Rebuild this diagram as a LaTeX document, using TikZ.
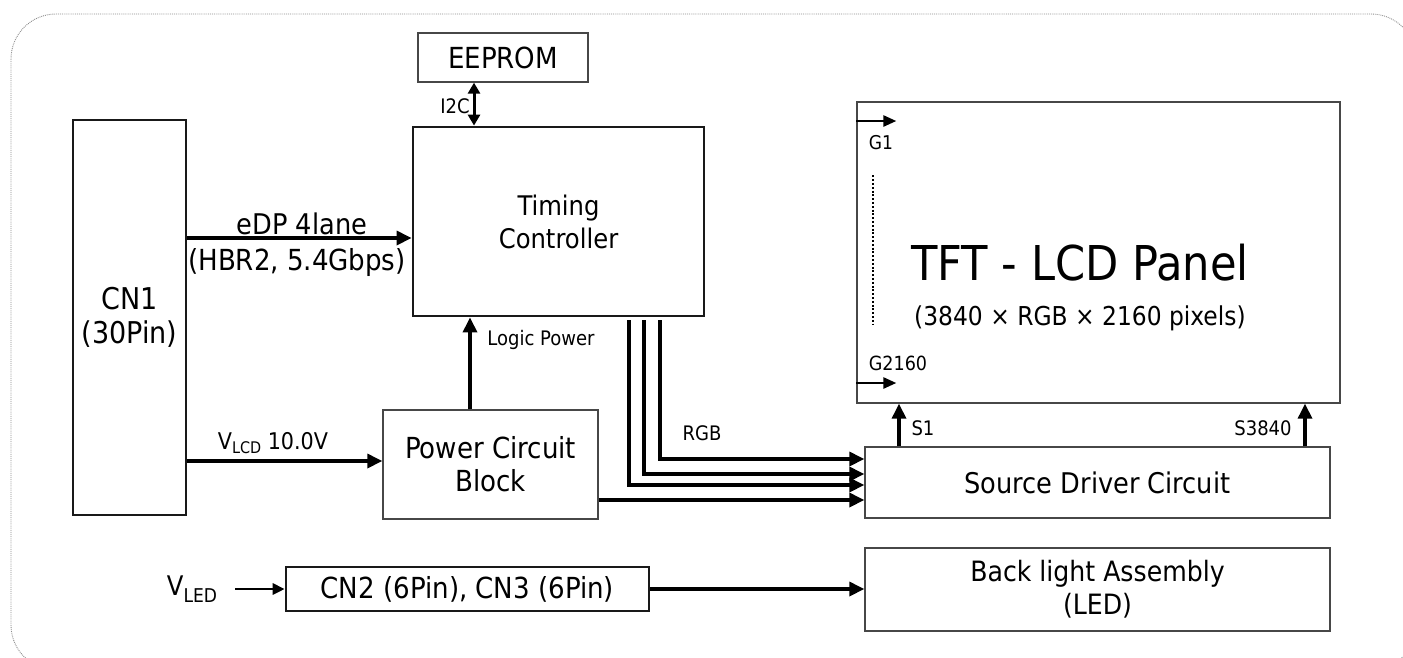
\documentclass[tikz,border=0pt]{standalone}
\usepackage{fontspec}
\setmainfont{DejaVu Sans Condensed}
\usetikzlibrary{arrows.meta,calc}
\newcommand{\fs}[1]{\fontsize{#1}{#1}\selectfont}
\begin{document}
\begin{tikzpicture}[x=1pt,y=-1pt,
  thinbox/.style={draw=black!72,line width=1.3pt,inner sep=0pt,align=center,font=\fontsize{28.5}{33}\selectfont},
  thickbox/.style={draw=black!90,line width=2.8pt,inner sep=0pt,align=center,font=\fontsize{27}{33}\selectfont},
  arr/.style={line width=3.3pt,-{Triangle[length=15pt,width=14pt]}},
  dbl/.style={line width=3pt,{Triangle[length=11pt,width=12pt]}-{Triangle[length=11pt,width=12pt]}},
  lbl/.style={inner sep=0pt,font=\fs{20}},
  txt/.style={inner sep=0pt,align=center,font=\fs{29}},
]
\useasboundingbox (0,0) rectangle (1403,657);
\begin{scope}
  \clip (0,0) rectangle (1403,657);
  \draw[black!45,densely dotted,line width=0.9pt,rounded corners=45pt] (11,14) rectangle (1416,670);
\end{scope}

% boxes
\node[thinbox,minimum width=170pt,minimum height=49pt,font=\fs{29}] (eeprom) at (503,57.5) {EEPROM};
\node[thickbox,minimum width=291pt,minimum height=189pt] (tc) at (558.5,221.5) {Timing\\Controller};
\node[thickbox,minimum width=113pt,minimum height=395pt,font=\fontsize{30}{34}\selectfont] (cn1) at (129.5,317.5) {CN1\\(30Pin)};
\node[thinbox,minimum width=215pt,minimum height=109pt,font=\fontsize{29}{33}\selectfont] (pwr) at (490.5,464.5) {Power Circuit\\Block};
\node[thinbox,minimum width=483pt,minimum height=301pt] (tft) at (1098.5,252.5) {};
\node[thinbox,minimum width=465pt,minimum height=71pt] (sdc) at (1097.5,482.5) {Source Driver Circuit};
\node[thinbox,minimum width=465pt,minimum height=83pt,font=\fontsize{28}{33}\selectfont] (bl) at (1097.5,589.5) {Back light Assembly\\(LED)};
\node[thickbox,line width=2.6pt,minimum width=363pt,minimum height=44pt,font=\fs{29}] (cn2) at (467.5,589) {CN2 (6Pin), CN3 (6Pin)};

% panel texts
\node[inner sep=0pt,font=\fs{48}] (tfttitle) at (1080,263) {TFT - LCD Panel};
\node[inner sep=0pt,font=\fs{26}] (tftsub) at (1080,318) {(3840 × RGB × 2160 pixels)};

% I2C
\coordinate (i2cT) at ([xshift=-29pt]eeprom.south);
\draw[dbl] (i2cT) -- (i2cT |- tc.north);
\node[lbl,font=\fs{20}] (i2c) at (455,106) {I2C};

% eDP
\coordinate (edpE) at ([yshift=-16.5pt]tc.west);
\draw[arr] (edpE -| cn1.east) -- (edpE);
\node[txt,font=\fs{28.5}] (edp1) at (302,224) {eDP 4lane};
\node[txt] (edp2) at (297,262) {(HBR2, 5.4Gbps)};

% VLCD
\coordinate (vlcdE) at ([yshift=3.5pt]pwr.west);
\draw[arr] (vlcdE -| cn1.east) -- (vlcdE);
\node[txt,font=\fs{23}] (vlcd) at (273,443) {V\raisebox{-4pt}{\fs{16}LCD} 10.0V};

% Logic power
\coordinate (lpS) at ([xshift=-20.5pt]pwr.north);
\draw[arr] (lpS) -- (lpS |- tc.south);
\node[lbl] (lp) at (541,340) {Logic Power};

% RGB buses
\coordinate (r1) at ([xshift=101.5pt]tc.south);
\coordinate (r2) at ([xshift=85.5pt]tc.south);
\coordinate (r3) at ([xshift=70.5pt]tc.south);
\coordinate (e1) at ([yshift=23.5pt]sdc.west);
\coordinate (e2) at ([yshift=8.5pt]sdc.west);
\coordinate (e3) at ([yshift=-2.5pt]sdc.west);
\coordinate (e4) at ([yshift=-17.5pt]sdc.west);
\draw[arr] ([yshift=-3pt]r1) |- (e1);
\draw[arr] ([yshift=-3pt]r2) |- (e2);
\draw[arr] ([yshift=-3pt]r3) |- (e3);
\draw[arr] (e4 -| pwr.east) -- (e4);
\node[lbl] (rgb) at (702,433) {RGB};

% source lines
\coordinate (s1) at ([xshift=-198.5pt]sdc.north);
\coordinate (sN) at ([xshift=207.5pt]sdc.north);
\draw[arr] (s1) -- (s1 |- tft.south);
\draw[arr] (sN) -- (sN |- tft.south);
\node[lbl] (s1l) at (923,428) {S1};
\node[lbl] (sNl) at (1263,428) {S3840};

% gate lines
\coordinate (g1) at ([yshift=131.5pt]tft.west);
\coordinate (g1e) at ([xshift=40pt]g1);
\coordinate (gN) at ([yshift=-130.5pt]tft.west);
\coordinate (gNe) at ([xshift=40pt]gN);
\draw[arr,line width=2.6pt,-{Triangle[length=13pt,width=11pt]}] (g1) -- (g1e);
\draw[arr,line width=2.6pt,-{Triangle[length=13pt,width=11pt]}] (gN) -- (gNe);
\node[lbl,font=\fs{19}] (g1l) at (881,143) {G1};
\node[lbl,font=\fs{19.5}] (gNl) at (898,363) {G2160};
\coordinate (dotT) at ([xshift=17pt,yshift=-74pt]tft.north west);
\coordinate (dotB) at ([xshift=17pt,yshift=-223pt]tft.north west);
\draw[line width=2pt,dash pattern=on 2pt off 1.8pt] (dotT) -- (dotB);

% LED
\node[inner sep=0pt,font=\fs{27}] (vled) at (192,589) {V\raisebox{-7pt}{\fs{19}LED}};
\coordinate (vs) at (235,589);
\draw[arr,line width=2.8pt,-{Triangle[length=12pt,width=11pt]}] (vs) -- (cn2.west);
\draw[arr] (cn2.east) -- (cn2.east -| bl.west);
\end{tikzpicture}
\end{document}
